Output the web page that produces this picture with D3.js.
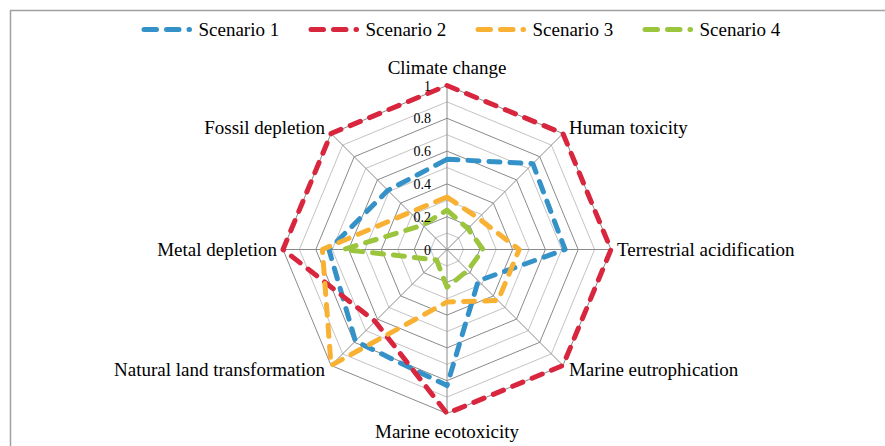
<!DOCTYPE html>
<html>
<head>
<meta charset="utf-8">
<script src="https://cdnjs.cloudflare.com/ajax/libs/d3/7.8.5/d3.min.js"></script>
<style>
  html, body { margin: 0; padding: 0; background: #fff; }
  svg { display: block; }
  text { font-family: "Liberation Serif", "Times New Roman", serif; fill: #000; }
</style>
</head>
<body>
<svg id="chart" width="885" height="446" font-family="Liberation Serif, Times New Roman, serif"></svg>
<script>
const categories = ["Climate change", "Human toxicity", "Terrestrial acidification", "Marine eutrophication",
                    "Marine ecotoxicity", "Natural land transformation", "Metal depletion", "Fossil depletion"];
const seriesNames = ["Scenario 1", "Scenario 2", "Scenario 3", "Scenario 4"];
const scenario1 = [0.55, 0.74, 0.72, 0.27, 0.83, 0.79, 0.72, 0.51];
const scenario2 = [1.00, 1.00, 1.00, 1.00, 1.00, 0.62, 1.00, 1.00];
const scenario3 = [0.32, 0.27, 0.44, 0.44, 0.32, 1.00, 0.76, 0.32];
const scenario4 = [0.24, 0.18, 0.22, 0.18, 0.23, 0.09, 0.63, 0.21];
const tickValues = [0, 0.2, 0.4, 0.6, 0.8, 1];
const tickLabels = ["0", "0.2", "0.4", "0.6", "0.8", "1"];
const gridLevels = [0.1, 0.2, 0.3, 0.4, 0.5, 0.6, 0.7, 0.8, 0.9, 1.0];
const colors = ["#3592C8", "#D7263D", "#F8B133", "#9BC53D"];
const seriesValues = [scenario1, scenario2, scenario3, scenario4];

const svg = d3.select("#chart");
const W = 885, H = 446;
const cx = 447, cy = 249.5, R = 164;

// outer chart border
svg.append("rect").attr("x", 10.5).attr("y", 10.5).attr("width", W).attr("height", H)
  .attr("fill", "none").attr("stroke", "#a0a0a0").attr("stroke-width", 1.5);

const g = svg.append("g").attr("transform", `translate(${cx},${cy})`);
const r = d3.scaleLinear().domain([0, 1]).range([0, R]);
const angle = d3.scalePoint().domain(d3.range(categories.length + 1)).range([0, 2 * Math.PI]);

// grid rings (major every 0.2, minor in between)
const ringLine = d3.lineRadial().angle((d, i) => angle(i)).radius(d => r(d)).curve(d3.curveLinearClosed);
gridLevels.forEach((lv) => {
  const major = Math.round(lv * 10) % 2 === 0;
  g.append("path").attr("d", ringLine(categories.map(() => lv)))
    .attr("fill", "none").attr("stroke", major ? "#8a8a8a" : "#c4c4c4").attr("stroke-width", 1);
});
// spokes
categories.forEach((c, i) => {
  const a = angle(i);
  g.append("line").attr("x1", 0).attr("y1", 0)
    .attr("x2", r(1) * Math.sin(a)).attr("y2", -r(1) * Math.cos(a))
    .attr("stroke", "#8a8a8a").attr("stroke-width", 1);
});

// series
const line = d3.lineRadial().angle((d, i) => angle(i)).radius(d => r(d)).curve(d3.curveLinearClosed);
seriesValues.forEach((vals, s) => {
  g.append("path").attr("d", line(vals)).attr("fill", "none")
    .attr("stroke", colors[s]).attr("stroke-width", 5)
    .attr("stroke-dasharray", "11 10").attr("stroke-linecap", "round").attr("stroke-linejoin", "round");
});

// tick labels
tickValues.forEach((t, i) => {
  g.append("text").attr("x", -16).attr("y", -r(t) + 5)
    .attr("text-anchor", "end").attr("font-size", 14).text(tickLabels[i]);
});

// category labels
categories.forEach((c, i) => {
  const a = angle(i);
  const s = Math.sin(a), co = Math.cos(a);
  const vx = r(1) * s, vy = -r(1) * co;
  let anchor = "middle", x = vx, y;
  if (s > 0.1) { anchor = "start"; x = vx + 6; }
  else if (s < -0.1) { anchor = "end"; x = vx - 6; }
  if (co > 0.9) y = vy - 11.5;
  else if (co < -0.9) y = vy + 24;
  else if (co > 0.1) y = vy;
  else if (co < -0.1) y = vy + 11;
  else y = vy + 6.5;
  g.append("text").attr("x", x).attr("y", y).attr("text-anchor", anchor)
    .attr("font-size", 19).text(c);
});

// legend
const lg = svg.append("g").attr("transform", "translate(144,29.5)");
seriesNames.forEach((name, s) => {
  const it = lg.append("g").attr("transform", `translate(${s * 167},0)`);
  it.append("line").attr("x1", 0).attr("x2", 45.5).attr("y1", 0).attr("y2", 0)
    .attr("stroke", colors[s]).attr("stroke-width", 5)
    .attr("stroke-dasharray", "12.5 10").attr("stroke-linecap", "round");
  it.append("text").attr("x", 54.5).attr("y", 6.5).attr("font-size", 19).text(name);
});
</script>
</body>
</html>
